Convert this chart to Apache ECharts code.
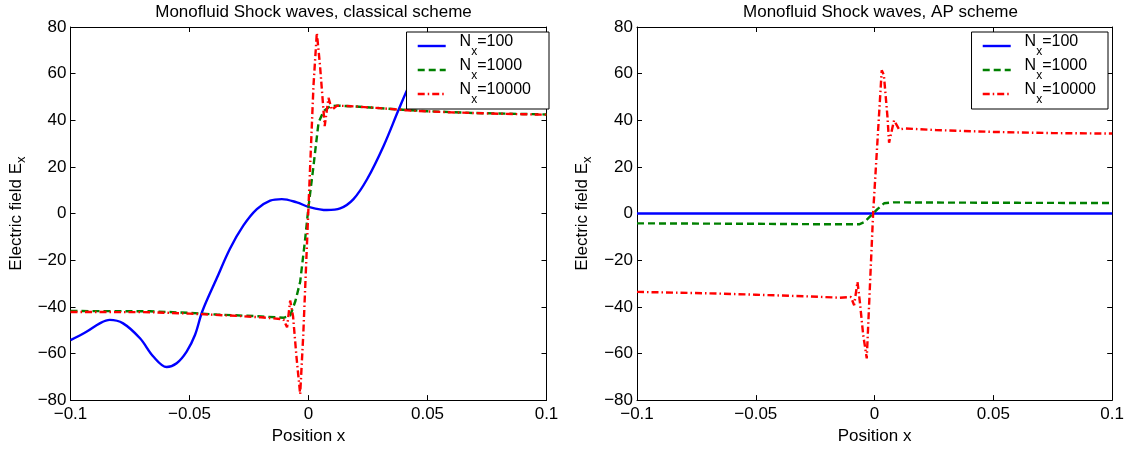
<!DOCTYPE html>
<html><head><meta charset="utf-8">
<script src="https://cdn.jsdelivr.net/npm/echarts@6/dist/echarts.min.js"></script>
<style>html,body{margin:0;padding:0;background:#fff}#c{width:1127px;height:450px}</style>
</head><body><div id="c"></div>
<script>
// ---- data ----
const titles = ['Monofluid Shock waves, classical scheme', 'Monofluid Shock waves, AP scheme'];
const seriesNames = ['Nx=100', 'Nx=1000', 'Nx=10000'];
const xTickValues = [-0.1, -0.05, 0, 0.05, 0.1];
const yTickValues = [-80, -60, -40, -20, 0, 20, 40, 60, 80];

// classical scheme
const classicalN100 = [
  [-0.1,-54.3],[-0.0933,-50.7],[-0.0877,-47.1],[-0.0835,-45.6],[-0.0779,-47.1],[-0.0708,-53.5],
  [-0.0652,-61.3],[-0.0596,-65.8],[-0.0554,-64.2],[-0.0512,-59.2],[-0.0477,-52.1],[-0.0446,-41.9],
  [-0.0386,-27.9],[-0.033,-15.1],[-0.0274,-5.2],[-0.0217,1.9],[-0.0161,5.5],[-0.0112,6.2],
  [-0.0049,4.8],[0,2.9],[0.0077,1.5],[0.0133,2.2],[0.0189,6.2],[0.0246,14.7],[0.0315,28.9],
  [0.0379,44.6],[0.0421,54.5],[0.046,62],[0.05,68],[0.056,73],[0.064,75],[0.072,73],
  [0.08,68],[0.09,62],[0.1,58]
];
const classicalN1000 = [
  [-0.1,-41.8],[-0.0666,-41.9],[-0.05,-42.6],[-0.0386,-43.3],[-0.02,-44.1],[-0.0105,-44.7],
  [-0.0077,-43.8],[-0.0055,-37.5],[-0.0035,-29.3],[-0.0014,-10.9],[0,2.9],[0.0021,20.4],
  [0.0042,38.9],[0.0063,43.9],[0.0091,46],[0.0119,46.3],[0.02,45.9],[0.03,45.2],[0.0428,44.3],
  [0.05,43.9],[0.06,43.5],[0.07,43.1],[0.08,42.9],[0.09,42.7],[0.1,42.5]
];
const classicalN10000 = [
  [-0.1,-42.2],[-0.0666,-42.3],[-0.05,-42.9],[-0.03,-43.9],[-0.02,-44.5],[-0.0119,-45.2],
  [-0.0105,-45.5],[-0.009,-48.8],[-0.0077,-37.3],[-0.0065,-44],[-0.005,-62],[-0.0035,-77.5],
  [-0.0022,-52],[0,3],[0.0021,55],[0.0035,77.5],[0.0048,64],[0.0068,37.5],[0.0084,49.6],
  [0.0098,44.5],[0.012,46.3],[0.02,45.9],[0.03,45.2],[0.0428,44.2],[0.05,43.8],[0.06,43.4],
  [0.07,43.1],[0.08,42.8],[0.09,42.6],[0.1,42.4]
];

// AP scheme
const apN100 = [[-0.1,0],[-0.05,0],[0,0],[0.05,0],[0.1,0]];
const apN1000 = [
  [-0.1,-4.2],[-0.05,-4.4],[-0.02,-4.6],[-0.0065,-4.6],[-0.0044,-3.7],[-0.0023,-1.6],
  [0.0012,1.9],[0.004,4.4],[0.008,4.8],[0.03,4.7],[0.06,4.6],[0.1,4.5]
];
const apN10000 = [
  [-0.1,-33.6],[-0.07,-34.2],[-0.05,-34.8],[-0.0233,-35.7],[-0.0149,-36.1],[-0.01,-35.8],
  [-0.0086,-39.3],[-0.0072,-29.3],[-0.0062,-37.9],[-0.0048,-52],[-0.0033,-62.1],[-0.0006,0.5],
  [0.003,61.4],[0.0039,59.5],[0.0054,41.7],[0.0061,30.4],[0.0082,40],[0.0103,36.1],
  [0.0131,36.5],[0.0257,35.8],[0.05,35],[0.075,34.5],[0.1,34.3]
];

// ---- chart ----
const FONT = 'Liberation Sans';
const colors = ['#0000ff', '#008000', '#ff0000'];
const dashes = ['solid', [7, 4], [7, 3, 1.5, 3]];

function fmt(v) {
  const r = Math.round(v * 1000) / 1000;
  if (r === 0) return '0';
  return String(r).replace('-', '\u2212');
}

const grids = [
  { left: 70.5, top: 27, width: 476, height: 375 },
  { left: 637, top: 27, width: 477, height: 375 }
];

const xAxes = [], yAxes = [];
grids.forEach((g, gi) => {
  const common = { gridIndex: gi, type: 'value', splitLine: { show: false },
    axisLine: { show: true, onZero: false, lineStyle: { color: '#000', width: 1 } },
    axisTick: { show: true, inside: true, length: 5, lineStyle: { color: '#000' } } };
  xAxes.push(Object.assign({}, common, {
    position: 'bottom', min: xTickValues[0], max: xTickValues[xTickValues.length - 1],
    interval: xTickValues[1] - xTickValues[0],
    axisLabel: { formatter: fmt, fontFamily: FONT, fontSize: 17, color: '#000', margin: 6 },
    name: 'Position x', nameLocation: 'middle', nameGap: 24,
    nameTextStyle: { fontFamily: FONT, fontSize: 17, color: '#000' }
  }));
  xAxes.push(Object.assign({}, common, {
    position: 'top', min: xTickValues[0], max: xTickValues[xTickValues.length - 1],
    interval: xTickValues[1] - xTickValues[0], axisLabel: { show: false }
  }));
  yAxes.push(Object.assign({}, common, {
    position: 'left', min: yTickValues[0], max: yTickValues[yTickValues.length - 1],
    interval: yTickValues[1] - yTickValues[0],
    axisLabel: { formatter: fmt, fontFamily: FONT, fontSize: 17, color: '#000', margin: 4 },
    name: 'Electric field E{s|x}', nameLocation: 'middle', nameGap: 43, nameRotate: 90,
    nameTextStyle: { fontFamily: FONT, fontSize: 17, color: '#000',
      rich: { s: { fontFamily: FONT, fontSize: 13, color: '#000', padding: [10, 0, 0, 0] } } }
  }));
  yAxes.push(Object.assign({}, common, {
    position: 'right', min: yTickValues[0], max: yTickValues[yTickValues.length - 1],
    interval: yTickValues[1] - yTickValues[0], axisLabel: { show: false }
  }));
});

const datasets = [[classicalN100, classicalN1000, classicalN10000], [apN100, apN1000, apN10000]];
const series = [];
datasets.forEach((set, gi) => {
  set.forEach((d, si) => {
    series.push({
      type: 'line', name: seriesNames[si], xAxisIndex: gi * 2, yAxisIndex: gi * 2,
      data: d, symbol: 'none', showSymbol: false, clip: true,
      smooth: (gi === 0 && si === 0) ? 0.35 : false,
      lineStyle: { color: colors[si], width: 2.4, type: dashes[si] },
      itemStyle: { color: colors[si] }
    });
  });
});

const legendRich = {
  n: { fontFamily: FONT, fontSize: 16, color: '#000', lineHeight: 16, padding: [0, 0, 8, 0] },
  s: { fontFamily: FONT, fontSize: 12, color: '#000', lineHeight: 12, padding: [12, 0, 0, 0] }
};
function legendFmt(name) { return '{n|  N}{s|x}{n|' + name.slice(2) + '}'; }
const legendPlaces = [{ right: 578, padR: 18 }, { right: 19, padR: 12 }];
const legends = legendPlaces.map(p => ({
  data: seriesNames, orient: 'vertical', right: p.right, top: 32,
  padding: [2, p.padR, 3, 10], itemGap: 0, itemWidth: 28, itemHeight: 14,
  backgroundColor: '#fff', borderColor: '#000', borderWidth: 1,
  formatter: legendFmt, selectedMode: false,
  itemStyle: { color: 'rgba(0,0,0,0)', borderWidth: 0, opacity: 0 },
  lineStyle: { width: 2.4 },
  textStyle: { fontFamily: FONT, fontSize: 16, color: '#000', rich: legendRich }
}));

const chart = echarts.init(document.getElementById('c'));
chart.setOption({
  animation: false,
  backgroundColor: '#fff',
  title: titles.map((t, i) => ({
    text: t, left: grids[i].left + grids[i].width / 2, top: -1, textAlign: 'center',
    textStyle: { fontFamily: FONT, fontSize: 17, fontWeight: 'normal', color: '#000' }
  })),
  grid: grids,
  xAxis: xAxes,
  yAxis: yAxes,
  legend: legends,
  series: series
});
</script></body></html>
